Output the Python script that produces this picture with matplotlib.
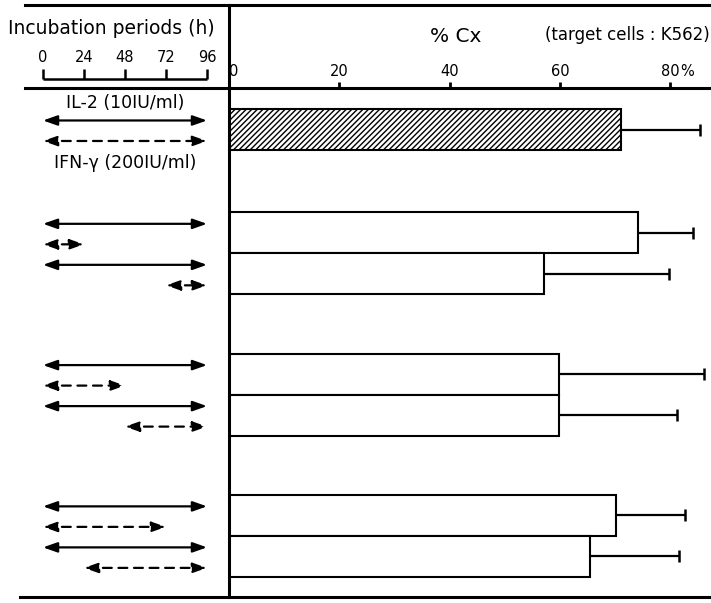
import matplotlib
matplotlib.use("Agg")
import matplotlib.pyplot as plt
from matplotlib.lines import Line2D

# % cytotoxicity against K562, mean and SD (upper side only)
PCT = [71.0, 74.1, 57.2, 59.8, 59.8, 70.1, 65.5]
SD = [14.4, 10.0, 22.6, 26.3, 21.5, 12.5, 16.1]

# incubation windows in hours (start, end)
IL2_PERIODS = [(0, 96), (0, 96), (0, 96), (0, 96), (0, 96), (0, 96), (0, 96)]
IFN_PERIODS = [(0, 96), (0, 24), (72, 96), (0, 48), (48, 96), (0, 72), (24, 96)]

HOURS = [0, 24, 48, 72, 96]
PCT_TICKS = [0, 20, 40, 60, 80]

W, H = 711, 603


def fx(px):
    return px / W


def fy(py):
    return 1 - py / H


# bar slots: the single hatched bar, then three pairs
ypos = [0.0]
for g in range(3):
    start = 2.52 + 3.445 * g
    ypos += [start, start + 1.0]

YLIM = (11.40, -1.012)
HX_LIM = (-25.17, 108.88)
FONT = "DejaVu Sans"

fig = plt.figure(figsize=(7.11, 6.03), dpi=100)

# right panel: % Cx bars
ax = fig.add_axes([fx(229), fy(597), fx(711) - fx(229), fy(88) - fy(597)])
ax.barh(ypos[0], PCT[0], height=1.02, color="white", edgecolor="black",
        hatch="//////", linewidth=1.5)
ax.barh(ypos[1:], PCT[1:], height=1.0, color="white", edgecolor="black",
        linewidth=1.5)
_, caps, _ = ax.errorbar(PCT, ypos, xerr=[[0] * len(SD), SD], fmt="none",
                         ecolor="black", elinewidth=1.6, capsize=4.3,
                         capthick=1.8)
caps[0].set_visible(False)  # no cap at the bar end
ax.set_xlim(0, 87.4)
ax.set_ylim(*YLIM)
ax.set_yticks([])
ax.xaxis.tick_top()
ax.set_xticks(PCT_TICKS)
ax.set_xticklabels([str(t) for t in PCT_TICKS], fontsize=10.5, family=FONT)
ax.get_xticklabels()[0].set_horizontalalignment("left")
ax.tick_params(axis="x", direction="out", length=4, width=2, pad=2.5)
for side in ("right", "bottom"):
    ax.spines[side].set_visible(False)
ax.spines["top"].set_linewidth(2.2)
ax.spines["left"].set_linewidth(2.2)
ax.annotate("%", xy=(80, 1), xycoords=("data", "axes fraction"),
            xytext=(7.5, 6.5), textcoords="offset points", ha="left",
            va="bottom", fontsize=10.5, family=FONT)

# left panel: incubation arrows
axl = fig.add_axes([0, fy(597), fx(229), fy(88) - fy(597)])
axl.set_xlim(*HX_LIM)
axl.set_ylim(*YLIM)
axl.axis("off")


def period_arrow(a, span, y, style):
    a.annotate("", xy=(span[1], y), xytext=(span[0], y),
               arrowprops=dict(arrowstyle="<|-|>,head_length=0.85,head_width=0.3",
                               lw=1.6, ls=style, color="black",
                               shrinkA=0, shrinkB=0))


for y, il2, ifn in zip(ypos, IL2_PERIODS, IFN_PERIODS):
    period_arrow(axl, il2, y - 0.22, "-")
    period_arrow(axl, ifn, y + 0.28, (0, (4, 3)))

axl.text(48, -0.65, "IL-2 (10IU/ml)", ha="center", va="center",
         fontsize=12.5, family=FONT)
axl.text(48, 0.82, "IFN-γ (200IU/ml)", ha="center", va="center",
         fontsize=12.5, family=FONT)

# header: incubation time scale
axh = fig.add_axes([0, fy(88), fx(229), fy(0) - fy(88)])
axh.set_xlim(*HX_LIM)
axh.set_ylim(88, 0)
axh.axis("off")
axh.text(40, 28, "Incubation periods (h)", ha="center", va="center",
         fontsize=13.5, family=FONT)
axh.plot([HOURS[0], HOURS[-1]], [79, 79], color="black", lw=1.8,
         solid_capstyle="butt")
axh.vlines(HOURS, 69, 79, color="black", lw=1.8)
for h in HOURS:
    axh.text(h, 58, str(h), ha="center", va="center", fontsize=10.5,
             family=FONT)

fig.text(fx(456), fy(37), "% Cx", ha="center", va="center", fontsize=14.5,
         family=FONT)
fig.text(fx(710), fy(35), "(target cells : K562)", ha="right", va="center",
         fontsize=12, family=FONT)

# frame rules
frame = [
    ([fx(25), fx(711)], [fy(5), fy(5)]),
    ([fx(25), fx(229)], [fy(88), fy(88)]),
    ([fx(229), fx(229)], [fy(5), fy(88)]),
    ([fx(20), fx(711)], [fy(597), fy(597)]),
]
for xs, ys in frame:
    fig.add_artist(Line2D(xs, ys, color="black", lw=2.2,
                          transform=fig.transFigure))

fig.savefig("out.png", dpi=100)
